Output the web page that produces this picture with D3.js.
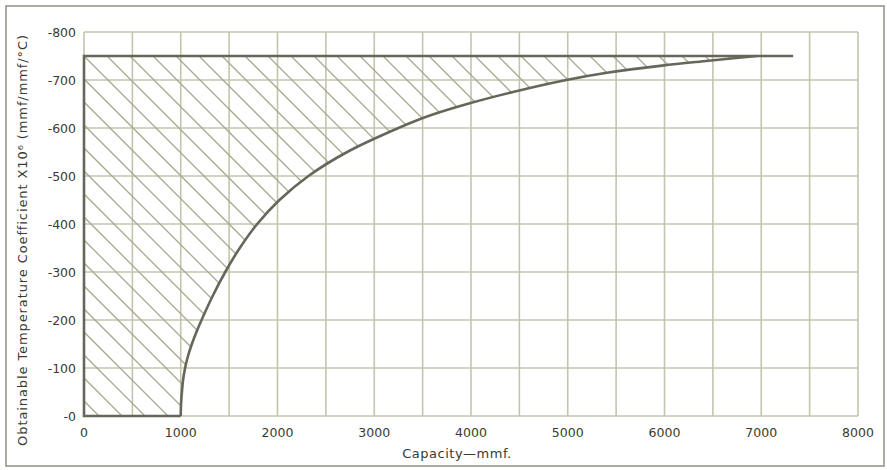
<!DOCTYPE html>
<html>
<head>
<meta charset="utf-8">
<script src="https://cdn.jsdelivr.net/npm/d3@7"></script>
<style>
  html, body { margin: 0; padding: 0; background: #ffffff; }
  svg { display: block; }
  text { font-family: "DejaVu Sans", sans-serif; fill: #3a3a32; }
</style>
</head>
<body>
<svg id="chart" width="887" height="470"></svg>
<script>
// ---- data ----
const xTickValues = [0, 1000, 2000, 3000, 4000, 5000, 6000, 7000, 8000];
const xTickLabels = ["0", "1000", "2000", "3000", "4000", "5000", "6000", "7000", "8000"];
const yTickValues = [0, -100, -200, -300, -400, -500, -600, -700, -800];
const yTickLabels = ["-0", "-100", "-200", "-300", "-400", "-500", "-600", "-700", "-800"];
const xGridValues = [0, 500, 1000, 1500, 2000, 2500, 3000, 3500, 4000, 4500, 5000, 5500, 6000, 6500, 7000, 7500, 8000];
const yGridValues = [0, -100, -200, -300, -400, -500, -600, -700, -800];
// boundary curve: capacity (mmf) vs obtainable temperature coefficient
const curveCapacity = [1000, 1003, 1012, 1024, 1045, 1075, 1115, 1162, 1215, 1330, 1460, 1610, 1790, 2020, 2320, 2720, 3250, 3560, 3960, 4435, 4985, 5405, 5975, 6455, 6955];
const curveCoefficient = [0, -25, -50, -75, -100, -125, -150, -175, -200, -250, -300, -350, -400, -450, -500, -550, -600, -625, -650, -675, -700, -715, -730, -740, -750];
const limitCoefficient = -750;      // upper limit line
const limitEndCapacity = 7330;      // where the limit line ends
const xAxisTitle = "Capacity\u2014mmf.";
const yAxisTitle = "Obtainable Temperature Coefficient X10\u2076 (mmf/mmf/\u00B0C)";

// ---- layout ----
const svg = d3.select("#chart");
const mLeft = 84, mRight = 858, mTop = 32, mBottom = 416;
const x = d3.scaleLinear().domain([0, 8000]).range([mLeft, mRight]);
const y = d3.scaleLinear().domain([0, -800]).range([mBottom, mTop]);

const gridColor = "#c4c4ae";
const hatchColor = "#a9a992";
const heavyColor = "#66665a";

// outer frame
svg.append("rect")
  .attr("x", 6).attr("y", 6).attr("width", 878).attr("height", 460)
  .attr("fill", "none").attr("stroke", "#8e8e86").attr("stroke-width", 1.5);

// grid
const grid = svg.append("g");
grid.selectAll("line.v").data(xGridValues).join("line")
  .attr("x1", d => x(d)).attr("x2", d => x(d))
  .attr("y1", y(0)).attr("y2", y(-800))
  .attr("stroke", gridColor).attr("stroke-width", 1.6);
grid.selectAll("line.h").data(yGridValues).join("line")
  .attr("x1", x(0)).attr("x2", x(8000))
  .attr("y1", d => y(d)).attr("y2", d => y(d))
  .attr("stroke", gridColor).attr("stroke-width", 1.6);

// region (obtainable area)
const curvePts = curveCapacity.map((c, i) => [c, curveCoefficient[i]]);
const curveGen = d3.line().x(d => x(d[0])).y(d => y(d[1])).curve(d3.curveCatmullRom.alpha(0.5));
const curvePath = curveGen(curvePts);
const clipD = curvePath +
  "L" + x(0) + "," + y(limitCoefficient) +
  "L" + x(0) + "," + y(0) + "Z";
svg.append("clipPath").attr("id", "regionClip")
  .append("path").attr("d", clipD);

// hatch lines (\ direction, 45 degrees)
const hatchSpacing = 23;
const x0 = x(0), y0 = y(limitCoefficient);
const hatchOffsets = d3.range(-20, 40).map(k => k * hatchSpacing);
svg.append("g").attr("clip-path", "url(#regionClip)")
  .selectAll("line").data(hatchOffsets).join("line")
  .attr("x1", d => x0 + d).attr("y1", y0)
  .attr("x2", d => x0 + d + 500).attr("y2", y0 + 500)
  .attr("stroke", hatchColor).attr("stroke-width", 1.3);

// heavy boundaries
svg.append("path")
  .attr("d", d3.line().x(d => x(d[0])).y(d => y(d[1]))([[1000, 0], [0, 0], [0, limitCoefficient], [limitEndCapacity, limitCoefficient]]))
  .attr("fill", "none").attr("stroke", heavyColor).attr("stroke-width", 2.6);
svg.append("path")
  .attr("d", curvePath)
  .attr("fill", "none").attr("stroke", heavyColor).attr("stroke-width", 2.6);

// x tick labels
svg.append("g").selectAll("text").data(xTickValues).join("text")
  .attr("x", d => x(d)).attr("y", 437)
  .attr("text-anchor", "middle")
  .attr("font-size", 12.5)
  .text((d, i) => xTickLabels[i]);

// y tick labels
svg.append("g").selectAll("text").data(yTickValues).join("text")
  .attr("x", 76).attr("y", d => y(d) + 4.5)
  .attr("text-anchor", "end")
  .attr("font-size", 12.5)
  .text((d, i) => yTickLabels[i]);

// axis titles
svg.append("text")
  .attr("x", 457).attr("y", 458)
  .attr("text-anchor", "middle")
  .attr("font-size", 13)
  .attr("letter-spacing", 0.5)
  .text(xAxisTitle);

svg.append("text")
  .attr("transform", "translate(27,240) rotate(-90)")
  .attr("text-anchor", "middle")
  .attr("font-size", 13)
  .attr("letter-spacing", 0.9)
  .text(yAxisTitle);
</script>
</body>
</html>
